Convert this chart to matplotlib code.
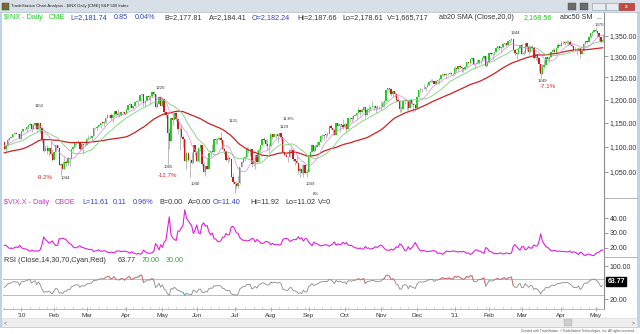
import numpy as np
import pandas as pd
import matplotlib
matplotlib.use("Agg")
import matplotlib.pyplot as plt
from matplotlib.patches import Rectangle
from matplotlib.lines import Line2D
from matplotlib.ticker import FixedLocator, NullLocator, FuncFormatter

plt.rcParams['font.family'] = ['Liberation Sans', 'DejaVu Sans']

# ---------------------------------------------------------------------------
# S&P 500 ($INX) daily closes used only to seed the moving averages and RSI
# (Oct 1 - Dec 16, 2009)
warmup_close = [
    1029.85, 1025.21, 1040.46, 1054.72, 1057.58, 1065.48, 1071.49, 1076.19, 1073.19, 1092.02,
    1096.56, 1087.68, 1097.91, 1091.06, 1081.40, 1092.91, 1079.60, 1066.95, 1063.41, 1042.63,
    1066.11, 1036.19,
    1042.88, 1045.41, 1046.50, 1066.63, 1069.30, 1093.08, 1093.01, 1098.51, 1087.24, 1093.48,
    1109.30, 1110.32, 1109.80, 1094.90, 1091.38, 1106.24, 1105.65, 1110.63, 1091.49, 1095.63,
    1108.86, 1109.24, 1099.92, 1105.98, 1103.25, 1091.94, 1095.95, 1102.35, 1106.41, 1114.11,
    1107.93, 1109.18,
]

# Visible bars: Dec 17, 2009 - May 6, 2011
dec2009_bars = 10

spx_close = [
    # Dec 2009
    1096.08, 1102.47, 1114.05, 1118.02, 1120.59, 1126.48, 1127.78, 1126.20, 1126.42, 1115.10,
    # Jan 2010
    1132.99, 1136.52, 1137.14, 1141.69, 1144.98, 1146.98, 1136.22, 1145.68, 1148.46, 1136.03,
    1150.23, 1138.04, 1116.48, 1091.76, 1096.78, 1092.17, 1097.50, 1084.53, 1073.87,
    # Feb
    1089.19, 1103.32, 1097.28, 1063.11, 1066.19, 1056.74, 1070.52, 1068.13, 1078.47, 1075.51,
    1094.87, 1099.51, 1106.75, 1109.17, 1108.01, 1094.60, 1105.24, 1102.94, 1104.49,
    # Mar
    1115.71, 1118.31, 1118.79, 1122.97, 1138.70, 1138.50, 1140.45, 1145.61, 1150.24, 1149.99,
    1150.51, 1159.46, 1166.21, 1165.83, 1159.90, 1165.81, 1174.17, 1167.72, 1165.73, 1166.59,
    1173.22, 1173.27, 1169.43,
    # Apr
    1178.10, 1187.44, 1189.44, 1182.45, 1186.44, 1194.37, 1196.48, 1197.30, 1210.65, 1211.67,
    1192.13, 1197.52, 1207.17, 1205.94, 1208.67, 1217.28, 1212.05, 1183.71, 1191.36, 1206.78,
    1186.69,
    # May
    1202.26, 1173.60, 1165.87, 1128.15, 1110.88, 1159.73, 1155.79, 1171.67, 1157.44, 1135.68,
    1136.94, 1120.80, 1115.05, 1071.59, 1087.69, 1073.65, 1074.03, 1067.95, 1103.06, 1089.41,
    # Jun
    1070.71, 1098.38, 1102.83, 1064.88, 1050.47, 1062.00, 1055.69, 1086.84, 1091.60, 1089.63,
    1115.23, 1114.61, 1116.04, 1117.51, 1113.20, 1095.31, 1092.04, 1073.69, 1076.76, 1074.57,
    1041.24, 1030.71,
    # Jul
    1027.37, 1022.58, 1028.06, 1060.27, 1070.25, 1077.96, 1078.75, 1095.34, 1095.17, 1096.48,
    1064.88, 1071.25, 1083.48, 1069.59, 1093.67, 1102.66, 1115.01, 1113.84, 1106.13, 1101.53,
    1101.60,
    # Aug
    1125.86, 1120.46, 1127.24, 1125.81, 1121.64, 1127.79, 1121.06, 1089.47, 1083.61, 1079.25,
    1079.38, 1092.54, 1094.16, 1075.63, 1071.69, 1067.36, 1051.87, 1055.33, 1047.22, 1064.59,
    1048.92, 1049.33,
    # Sep
    1080.29, 1090.10, 1104.51, 1091.84, 1098.87, 1104.18, 1109.55, 1121.90, 1121.10, 1125.07,
    1124.66, 1125.59, 1142.71, 1139.78, 1134.28, 1124.83, 1148.67, 1142.16, 1147.70, 1144.73,
    1141.20,
    # Oct
    1146.24, 1137.03, 1160.75, 1159.97, 1158.06, 1165.15, 1165.32, 1169.77, 1178.10, 1173.81,
    1176.19, 1184.71, 1165.90, 1178.17, 1180.26, 1183.08, 1185.62, 1185.64, 1182.45, 1183.78,
    1183.26,
    # Nov
    1184.38, 1193.57, 1197.96, 1221.06, 1225.85, 1223.25, 1213.40, 1218.71, 1213.54, 1199.21,
    1197.75, 1178.34, 1178.59, 1196.69, 1199.73, 1197.84, 1180.73, 1198.35, 1189.40, 1187.76,
    1180.55,
    # Dec
    1206.07, 1221.53, 1224.71, 1223.12, 1223.75, 1228.28, 1233.00, 1240.40, 1240.46, 1241.59,
    1235.23, 1242.87, 1243.91, 1247.08, 1254.60, 1258.84, 1256.77, 1257.54, 1258.51, 1259.78,
    1257.88, 1257.64,
    # Jan 2011
    1271.87, 1270.20, 1276.56, 1273.85, 1271.50, 1269.75, 1274.48, 1285.96, 1283.76, 1293.24,
    1295.02, 1281.92, 1280.26, 1283.35, 1290.84, 1291.18, 1296.63, 1299.54, 1276.34, 1286.12,
    # Feb
    1307.59, 1304.03, 1307.10, 1310.87, 1319.05, 1324.57, 1320.88, 1321.87, 1329.15, 1332.32,
    1328.01, 1336.32, 1340.43, 1343.01, 1315.44, 1307.40, 1306.10, 1319.88, 1327.22,
    # Mar
    1306.33, 1308.44, 1330.97, 1321.15, 1310.13, 1321.82, 1320.02, 1295.11, 1304.28, 1296.39,
    1281.87, 1256.88, 1273.72, 1279.21, 1298.38, 1293.77, 1297.54, 1309.66, 1313.80, 1310.19,
    1319.44, 1328.26, 1325.83,
    # Apr
    1332.41, 1332.87, 1332.63, 1335.54, 1333.51, 1328.17, 1324.46, 1314.16, 1314.41, 1314.52,
    1319.68, 1305.14, 1312.62, 1330.36, 1337.38, 1335.25, 1347.24, 1355.66, 1360.48, 1363.61,
    # May
    1361.22, 1356.62, 1347.32, 1335.10, 1340.20,
]

spx_high = [
    1106, 1103, 1117, 1118, 1121, 1127, 1130, 1130, 1128, 1128,
    1133, 1137, 1139, 1142, 1145, 1150, 1147, 1148, 1149, 1148,
    1150, 1150, 1136, 1115, 1103, 1103, 1098, 1111, 1096,
    1090, 1104, 1102, 1097, 1067, 1071, 1080, 1073, 1080, 1077,
    1095, 1100, 1107, 1112, 1113, 1108, 1107, 1103, 1108,
    1117, 1124, 1125, 1123, 1139, 1141, 1142, 1148, 1150, 1153,
    1151, 1160, 1168, 1167, 1170, 1169, 1175, 1174, 1180, 1173,
    1174, 1175, 1173,
    1181, 1188, 1192, 1189, 1187, 1194, 1199, 1199, 1210, 1213,
    1210, 1197, 1208, 1210, 1209, 1217, 1220, 1212, 1195, 1208,
    1207,
    1205, 1197, 1176, 1168, 1139, 1163, 1170, 1172, 1173, 1157,
    1141, 1148, 1125, 1108, 1090, 1090, 1075, 1090, 1104, 1103,
    1094, 1098, 1105, 1103, 1070, 1063, 1078, 1087, 1092, 1106,
    1115, 1117, 1118, 1121, 1131, 1114, 1100, 1092, 1083, 1082,
    1074, 1048,
    1033, 1033, 1042, 1060, 1071, 1078, 1080, 1099, 1099, 1098,
    1096, 1074, 1084, 1094, 1097, 1103, 1115, 1120, 1115, 1115,
    1107,
    1127, 1126, 1128, 1126, 1126, 1129, 1127, 1111, 1092, 1087,
    1082, 1095, 1100, 1093, 1076, 1082, 1067, 1060, 1066, 1065,
    1065, 1056,
    1081, 1090, 1105, 1103, 1103, 1111, 1110, 1124, 1127, 1126,
    1126, 1131, 1144, 1148, 1138, 1135, 1149, 1149, 1148, 1148,
    1157,
    1150, 1148, 1162, 1163, 1164, 1167, 1169, 1173, 1184, 1179,
    1182, 1185, 1179, 1182, 1189, 1183, 1197, 1188, 1183, 1189,
    1185,
    1196, 1196, 1199, 1221, 1227, 1224, 1227, 1219, 1215, 1213,
    1208, 1198, 1186, 1200, 1200, 1198, 1198, 1198, 1198, 1190,
    1188,
    1207, 1222, 1226, 1225, 1235, 1228, 1236, 1241, 1246, 1247,
    1242, 1244, 1245, 1248, 1255, 1259, 1260, 1258, 1260, 1263,
    1260, 1260,
    1276, 1275, 1277, 1278, 1277, 1272, 1277, 1287, 1287, 1293,
    1296, 1295, 1282, 1294, 1291, 1292, 1299, 1302, 1300, 1287,
    1308, 1308, 1308, 1311, 1322, 1325, 1325, 1322, 1331, 1332,
    1331, 1338, 1340, 1344, 1342, 1317, 1310, 1320, 1328,
    1333, 1314, 1332, 1331, 1327, 1325, 1327, 1320, 1308, 1304,
    1282, 1281, 1282, 1292, 1299, 1299, 1300, 1311, 1319, 1320,
    1320, 1331, 1330,
    1338, 1336, 1338, 1339, 1339, 1339, 1331, 1324, 1322, 1315,
    1320, 1319, 1313, 1332, 1338, 1337, 1349, 1357, 1361, 1364,
    1371, 1362, 1356, 1348, 1354,
]

spx_low = [
    1094, 1092, 1102, 1113, 1117, 1121, 1126, 1126, 1121, 1115,
    1116, 1130, 1134, 1131, 1136, 1142, 1131, 1136, 1143, 1131,
    1135, 1129, 1108, 1090, 1092, 1086, 1081, 1083, 1071,
    1074, 1089, 1097, 1063, 1044, 1056, 1058, 1062, 1061, 1062,
    1076, 1091, 1099, 1104, 1105, 1092, 1094, 1086, 1101,
    1105, 1116, 1116, 1112, 1123, 1137, 1135, 1140, 1138, 1147,
    1142, 1150, 1160, 1162, 1155, 1152, 1163, 1164, 1165, 1163,
    1165, 1170, 1166,
    1169, 1178, 1183, 1181, 1179, 1186, 1194, 1189, 1198, 1208,
    1186, 1185, 1198, 1198, 1190, 1205, 1211, 1181, 1183, 1191,
    1186,
    1187, 1167, 1161, 1066, 1095, 1123, 1146, 1156, 1154, 1127,
    1094, 1117, 1100, 1071, 1056, 1072, 1041, 1065, 1069, 1083,
    1069, 1070, 1091, 1061, 1050, 1042, 1055, 1056, 1080, 1089,
    1090, 1106, 1105, 1114, 1107, 1094, 1085, 1071, 1067, 1071,
    1041, 1028,
    1011, 1018, 1019, 1028, 1061, 1068, 1072, 1079, 1087, 1081,
    1060, 1061, 1056, 1068, 1070, 1088, 1102, 1109, 1101, 1094,
    1088,
    1102, 1116, 1119, 1117, 1108, 1122, 1111, 1089, 1082, 1079,
    1070, 1079, 1088, 1071, 1064, 1067, 1046, 1040, 1046, 1040,
    1049, 1040,
    1050, 1081, 1091, 1090, 1091, 1104, 1102, 1110, 1116, 1114,
    1118, 1122, 1126, 1137, 1125, 1124, 1125, 1142, 1131, 1140,
    1136,
    1141, 1131, 1138, 1151, 1151, 1155, 1164, 1155, 1171, 1167,
    1171, 1174, 1160, 1167, 1171, 1178, 1184, 1177, 1171, 1177,
    1179,
    1177, 1185, 1183, 1198, 1221, 1216, 1209, 1205, 1205, 1194,
    1197, 1173, 1173, 1179, 1190, 1177, 1177, 1181, 1188, 1173,
    1174,
    1181, 1206, 1217, 1218, 1223, 1219, 1228, 1233, 1240, 1239,
    1234, 1235, 1238, 1236, 1248, 1254, 1254, 1248, 1256, 1258,
    1256, 1254,
    1257, 1262, 1266, 1270, 1262, 1263, 1269, 1275, 1282, 1281,
    1289, 1279, 1271, 1281, 1282, 1281, 1288, 1294, 1275, 1276,
    1286, 1302, 1294, 1302, 1312, 1317, 1316, 1311, 1319, 1326,
    1324, 1328, 1331, 1338, 1315, 1302, 1294, 1307, 1321,
    1306, 1302, 1309, 1313, 1303, 1310, 1316, 1294, 1292, 1289,
    1262, 1249, 1257, 1273, 1280, 1291, 1285, 1298, 1309, 1310,
    1305, 1320, 1325,
    1325, 1329, 1327, 1330, 1326, 1326, 1321, 1309, 1313, 1303,
    1312, 1295, 1306, 1321, 1330, 1332, 1336, 1345, 1350, 1358,
    1358, 1348, 1337, 1331, 1336,
]

# CBOE Volatility Index ($VIX.X) daily closes for the same bars
vix_close = [
    21.49, 21.68, 20.49, 19.54, 19.71, 19.47, 20.01, 20.54, 20.01, 21.68,
    20.04, 19.35, 19.16, 19.06, 18.13, 17.55, 18.25, 17.85, 17.63, 17.91,
    17.58, 18.68, 22.27, 27.31, 25.41, 24.55, 23.14, 23.73, 24.62,
    22.59, 21.48, 21.60, 26.08, 26.11, 26.51, 26.00, 25.40, 23.96, 22.73,
    22.25, 20.63, 19.94, 20.02, 20.64, 21.37, 20.27, 20.10, 19.50,
    19.26, 18.83, 18.83, 18.72, 17.42, 17.79, 17.92, 18.57, 17.58, 17.58,
    18.00, 17.69, 16.91, 16.62, 16.97, 16.87, 16.35, 17.55, 17.75, 17.77,
    17.30, 17.59, 17.59,
    17.47, 17.02, 16.23, 17.22, 16.46, 16.14, 15.58, 16.20, 15.59, 16.07,
    18.36, 17.34, 16.32, 16.26, 16.21, 16.62, 17.47, 22.81, 21.08, 18.44,
    22.05,
    20.19, 23.84, 24.91, 32.80, 40.95, 28.84, 26.68, 25.52, 24.91, 31.24,
    31.24, 33.55, 35.32, 45.79, 40.10, 38.32, 36.61, 35.08, 29.68, 32.07,
    35.48, 30.26, 29.46, 35.48, 36.93, 34.66, 35.03, 31.03, 28.79, 30.00,
    26.24, 25.85, 24.46, 23.95, 24.88, 27.06, 27.27, 29.74, 28.53, 29.00,
    34.13, 34.54,
    32.86, 30.12, 29.65, 26.84, 25.71, 24.98, 25.07, 24.56, 24.89, 25.14,
    26.25, 25.97, 23.93, 25.64, 24.63, 23.47, 22.73, 23.19, 24.25, 24.13,
    23.50,
    22.01, 23.00, 22.21, 22.01, 22.14, 21.74, 22.37, 25.39, 26.24, 26.24,
    25.99, 24.33, 24.59, 25.49, 25.49, 25.66, 27.46, 25.91, 26.70, 24.45,
    26.17, 26.05,
    23.89, 22.71, 21.31, 23.80, 22.95, 22.54, 21.99, 21.21, 21.56, 21.72,
    22.10, 21.67, 21.06, 21.75, 22.51, 23.87, 21.71, 22.54, 22.07, 22.25,
    23.70,
    22.50, 23.53, 21.76, 21.49, 21.56, 20.71, 19.85, 19.88, 19.07, 19.88,
    19.03, 19.08, 20.88, 19.57, 19.82, 19.09, 19.28, 19.85, 20.71, 20.16,
    21.20,
    21.83, 21.12, 19.56, 18.52, 18.26, 18.29, 19.08, 18.37, 19.06, 20.61,
    20.20, 22.58, 21.98, 19.98, 18.04, 18.37, 20.63, 18.74, 19.98, 21.53,
    23.54,
    21.36, 19.39, 18.01, 18.02, 17.99, 17.74, 17.25, 17.61, 17.55, 17.94,
    17.94, 17.61, 16.11, 16.41, 16.07, 15.45, 16.47, 17.67, 17.52, 17.28,
    17.52, 17.75,
    17.61, 17.38, 17.02, 17.40, 17.14, 17.54, 16.89, 16.24, 16.39, 15.46,
    15.87, 17.31, 18.42, 18.47, 17.65, 17.59, 16.64, 16.15, 20.04, 19.53,
    17.63, 17.30, 16.69, 15.93, 16.06, 15.81, 16.32, 16.32, 15.69, 15.95,
    16.37, 16.23, 15.85, 16.43, 20.80, 22.13, 20.67, 19.22, 18.35,
    20.70, 20.70, 18.60, 19.06, 20.66, 19.62, 19.84, 21.88, 21.13, 21.16,
    24.32, 29.40, 24.45, 22.51, 20.61, 20.25, 19.17, 18.00, 17.91, 18.18,
    17.88, 17.39, 17.74,
    17.40, 17.40, 17.28, 17.20, 17.11, 17.87, 16.59, 17.21, 16.92, 16.27,
    15.32, 16.96, 16.44, 15.07, 14.69, 15.52, 15.62, 15.30, 14.62, 14.75,
    15.99, 16.70, 17.08, 18.20, 18.40,
]

# Trading days per month from Jan 2010 to May 2011 (last month partial)
month_days = [19, 19, 23, 21, 20, 22, 21, 22, 21, 21, 21, 22, 20, 19, 23, 20, 5]
month_labels = ["'10", "Feb", "Mar", "Apr", "May", "Jun", "Jul", "Aug", "Sep",
                "Oct", "Nov", "Dec", "'11", "Feb", "Mar", "Apr", "May"]

price_ticks = [1050, 1100, 1150, 1200, 1250, 1300, 1350]
vix_ticks = [20, 30, 40]
rsi_ticks = [20, 100]
rsi_last = 63.77

# swing annotations: text, bar (0 = Jan 4 2010), anchor, offset px (dx, dy down), colour, size
swing_labels = [
    ("1150", 10, "high", 0.4, -16.7, "#333333", 3.1),
    ("-9.2%", 23, "low", -16.0, 2.6, "#cc2a2a", 4.4),
    ("1044", 23, "low", 4.0, 3.2, "#333333", 3.1),
    ("1220", 78, "high", 4.5, -6.3, "#333333", 3.1),
    ("1065", 85, "low", 0.9, 2.9, "#333333", 3.1),
    ("-12.7%", 85, "low", -0.1, 11.5, "#cc2a2a", 4.4),
    ("1040", 98, "low", 5.1, 7.6, "#333333", 3.1),
    ("1131", 116, "high", 12.1, -10.7, "#333333", 3.1),
    ("11.8%", 150, "high", 9.2, -14.0, "#333333", 3.1),
    ("1129", 150, "high", 4.7, -5.4, "#333333", 3.1),
    ("1039", 164, "low", 7.1, 7.1, "#333333", 3.1),
    ("8%", 164, "low", 12.6, 16.5, "#333333", 3.1),
    ("1344", 285, "high", 3.5, -4.8, "#333333", 3.1),
    ("1249", 302, "low", 1.8, 3.1, "#333333", 3.1),
    ("-7.1%", 302, "low", 6.8, 8.8, "#cc2a2a", 4.4),
    ("1370", 334, "high", 3.3, -2.0, "#333333", 3.1),
]

# ---------------------------------------------------------------------------
n_pre = len(warmup_close)
closes_all = pd.Series(warmup_close + spx_close, dtype=float)
sma10 = closes_all.rolling(10).mean().to_numpy()[n_pre:]
sma20 = closes_all.rolling(20).mean().to_numpy()[n_pre:]
sma50 = closes_all.rolling(50).mean().to_numpy()[n_pre:]

delta = closes_all.diff()
gain = delta.clip(lower=0).ewm(alpha=1 / 14, adjust=False).mean()
loss = (-delta.clip(upper=0)).ewm(alpha=1 / 14, adjust=False).mean()
rsi = (100 - 100 / (1 + gain / loss)).to_numpy()[n_pre:]

c = np.array(spx_close, dtype=float)
o = closes_all.shift(1).to_numpy()[n_pre:]          # cash index opens at the prior close
hi = np.maximum(np.array(spx_high, dtype=float), np.maximum(o, c))
lo = np.minimum(np.array(spx_low, dtype=float), np.minimum(o, c))
x = np.arange(len(c)) - dec2009_bars
vix = np.array(vix_close, dtype=float)

month_starts = np.concatenate([[0], np.cumsum(month_days)[:-1]])

# ---------------------------------------------------------------------------
W, H = 640, 334
fig = plt.figure(figsize=(W / 100, H / 100), dpi=100)
fig.patch.set_facecolor("white")


def fbox(x0, y0, x1, y1):
    return [x0 / W, 1 - y1 / H, (x1 - x0) / W, (y1 - y0) / H]


def px_rect(x0, y0, x1, y1, **kw):
    fig.add_artist(Rectangle((x0 / W, 1 - y1 / H), (x1 - x0) / W, (y1 - y0) / H,
                             transform=fig.transFigure, **kw))


def px_line(x0, y0, x1, y1, **kw):
    fig.add_artist(Line2D([x0 / W, x1 / W], [1 - y0 / H, 1 - y1 / H],
                          transform=fig.transFigure, **kw))


def px_text(xp, yp, s, **kw):
    fig.text(xp / W, 1 - yp / H, s, **kw)


PL, PR = 3, 604
ax_p = fig.add_axes(fbox(PL, 12, PR, 198))
ax_v = fig.add_axes(fbox(PL, 198, PR, 257), sharex=ax_p)
ax_r = fig.add_axes(fbox(PL, 257, PR, 309), sharex=ax_p)

AXIS_GREY = "#8c8c8c"
TXT = "#333333"
for ax in (ax_p, ax_v, ax_r):
    ax.set_facecolor("white")
    for side in ("top", "left", "bottom"):
        ax.spines[side].set_visible(False)
    ax.spines["right"].set_color(AXIS_GREY)
    ax.spines["right"].set_linewidth(0.8)
    ax.yaxis.tick_right()
    ax.tick_params(axis="y", direction="out", length=3, width=0.6, color=AXIS_GREY,
                   labelsize=5, labelcolor=TXT, pad=1)
    ax.tick_params(axis="x", bottom=False, labelbottom=False)

ax_p.set_xlim(-10.7, 338.8)

# --- price panel -----------------------------------------------------------
ax_p.set_yscale("log")
ax_p.set_ylim(1000.9, 1410.3)
ax_p.yaxis.set_major_locator(FixedLocator(price_ticks))
ax_p.yaxis.set_minor_locator(NullLocator())
ax_p.yaxis.set_major_formatter(FuncFormatter(lambda v, p: f"{v:,.2f}"))

ax_p.vlines(x, lo, hi, color="#a0a0a0", linewidth=0.5, zorder=2)
up = c >= o
body_col = np.where(up, "#18d418", "#d01818")
ax_p.bar(x, np.maximum(np.abs(c - o), 0.6), bottom=np.minimum(o, c), width=0.8,
         color=body_col, linewidth=0, zorder=3)
ax_p.plot(x, sma50, color="#cc2222", linewidth=0.9, zorder=4)
ax_p.plot(x, sma20, color="#7ad27a", linewidth=0.6, zorder=4)
ax_p.plot(x, sma10, color="#d68ae0", linewidth=0.5, zorder=4)

for text, bar, anchor, dx, dy, col, size in swing_labels:
    i = bar + dec2009_bars
    yv = hi[i] if anchor == "high" else lo[i]
    ax_p.annotate(text, xy=(x[i], yv), xytext=(dx * 0.72, -dy * 0.72),
                  textcoords="offset points", ha="center", va="center",
                  fontsize=size, color=col, zorder=6)

# --- VIX panel -------------------------------------------------------------
ax_v.set_ylim(13.67, 53.8)
ax_v.yaxis.set_major_locator(FixedLocator(vix_ticks))
ax_v.yaxis.set_major_formatter(FuncFormatter(lambda v, p: f"{v:.2f}"))
ax_v.plot(x, vix, color="#e020e0", linewidth=0.8)

# --- RSI panel -------------------------------------------------------------
ax_r.set_ylim(-3.0, 122.3)
ax_r.yaxis.set_major_locator(FixedLocator(rsi_ticks))
ax_r.yaxis.set_major_formatter(FuncFormatter(lambda v, p: f"{v:.2f}"))
ax_r.axhline(70, color="#9fcf9f", linewidth=0.7)
ax_r.axhline(30, color="#9fcf9f", linewidth=0.7)
ax_r.plot(x, rsi, color="#8a8a8a", linewidth=0.6)
hot = rsi >= 70
hot_mask = hot | np.roll(hot, 1) | np.roll(hot, -1)
ax_r.plot(x, np.where(hot_mask, rsi, np.nan), color="#e07070", linewidth=0.6)
cold = rsi <= 30
cold_mask = cold | np.roll(cold, 1) | np.roll(cold, -1)
ax_r.plot(x, np.where(cold_mask, rsi, np.nan), color="#40c0d0", linewidth=0.6)

ax_r.annotate(f"{rsi_last:.2f}", xy=(1.0, rsi_last), xycoords=("axes fraction", "data"),
              xytext=(2.5, 0), textcoords="offset points", ha="left", va="center",
              fontsize=5, color="white", fontweight="bold",
              bbox=dict(boxstyle="square,pad=0.15", fc="black", ec="black"),
              annotation_clip=False, zorder=10)

ax_r.spines["bottom"].set_visible(True)
ax_r.spines["bottom"].set_color("#b0b0b0")
ax_r.spines["bottom"].set_linewidth(0.6)
ax_r.tick_params(axis="x", bottom=True, labelbottom=True, direction="inout",
                 length=3, width=0.5, color="#909090", labelsize=4.6,
                 labelcolor=TXT, pad=1.5)
ax_r.xaxis.set_major_locator(FixedLocator(month_starts))
ax_r.xaxis.set_major_formatter(FuncFormatter(
    lambda v, p: month_labels[list(month_starts).index(int(round(v)))]
    if int(round(v)) in list(month_starts) else ""))
ax_r.xaxis.set_minor_locator(FixedLocator(np.arange(-10, 339, 5)))
ax_r.tick_params(axis="x", which="minor", bottom=True, direction="in",
                 length=1.5, width=0.4, color="#a0a0a0")

# --- header lines ----------------------------------------------------------
GREEN = "#22cc22"
BLUE = "#3040c0"
MAG = "#cc33cc"
DGREEN = "#3a9a3a"
info_size = 5.2

price_info = [("$INX - Daily", 4, GREEN), ("CME", 49, GREEN), ("L=2,181.74", 70.7, BLUE),
              ("0.85", 113.7, BLUE), ("0.04%", 135, BLUE), ("B=2,177.81", 164, TXT),
              ("A=2,184.41", 209, TXT), ("O=2,182.24", 252, BLUE), ("Hi=2,187.66", 297, TXT),
              ("Lo=2,178.61", 342, TXT), ("V=1,665,717", 387, TXT),
              ("ab20 SMA (Close,20,0)", 439, TXT), ("2,168.56", 524, GREEN),
              ("abc50 SM", 560, TXT), ("...", 596, TXT)]
for s, xp, col in price_info:
    px_text(xp, 17.5, s, fontsize=info_size, color=col, ha="left", va="center")

vix_info = [("$VIX.X - Daily", 4, MAG), ("CBOE", 55, MAG), ("L=11.61", 82, BLUE),
            ("0.11", 113, BLUE), ("0.96%", 133, BLUE), ("B=0.00", 159, TXT),
            ("A=0.00", 188, TXT), ("O=11.40", 213, BLUE), ("Hi=11.92", 250, TXT),
            ("Lo=11.02", 285, TXT), ("V=0", 318, TXT)]
for s, xp, col in vix_info:
    px_text(xp, 203, s, fontsize=info_size, color=col, ha="left", va="center")

rsi_info = [("RSI (Close,14,30,70,Cyan,Red)", 4, TXT), ("63.77", 118, TXT),
            ("70.00", 142, DGREEN), ("30.00", 166, DGREEN)]
for s, xp, col in rsi_info:
    px_text(xp, 261, s, fontsize=info_size, color=col, ha="left", va="center")

# --- window chrome ---------------------------------------------------------
px_rect(0, 0, 640, 12, facecolor="#d8dfe7", edgecolor="none", zorder=0)
px_line(0, 12, 640, 12, color="#b8c4d2", linewidth=0.6)
px_rect(2, 3, 9, 10, facecolor="#5a7a3a", edgecolor="#3a4a2a", linewidth=0.3)
px_rect(3, 4, 5, 7, facecolor="#d03030", edgecolor="none")
px_text(11, 6.5, "TradeStation Chart Analysis - $INX Daily [CME] S&P 500 Index",
        fontsize=3.1, color="#2a2a2a", ha="left", va="center")
px_rect(568, 3, 576, 10, facecolor="#6a6a6a", edgecolor="#505050", linewidth=0.3)
px_rect(580, 3, 588, 10, facecolor="#6a6a6a", edgecolor="#505050", linewidth=0.3)
px_rect(592, 3, 605, 10, facecolor="#e8ebef", edgecolor="#8c98a8", linewidth=0.4)
px_rect(606, 3, 618, 10, facecolor="#e8ebef", edgecolor="#8c98a8", linewidth=0.4)
px_rect(619, 3, 634, 10, facecolor="#c9483e", edgecolor="#8a3030", linewidth=0.4)
px_text(626.5, 6.5, "x", fontsize=3.5, color="white", ha="center", va="center",
        fontweight="bold")

# side borders
px_rect(0, 12, 2.2, 328, facecolor="#bcd3ea", edgecolor="none")
px_rect(636.8, 12, 640, 328, facecolor="#bcd3ea", edgecolor="none")

# separators in the price-scale column
for yp in (198, 257):
    px_line(PR, yp, 636.8, yp, color="#a8a8a8", linewidth=0.6)

# scroll bar
px_rect(2.2, 318, 636.8, 327, facecolor="#eeeeee", edgecolor="#d4d4d4", linewidth=0.4)
px_rect(564, 319.2, 572, 325.8, facecolor="#cdcdcd", edgecolor="#b8b8b8", linewidth=0.3)
px_text(5.5, 322.5, "<", fontsize=3.6, color="#555555", ha="center", va="center")
px_text(633, 322.5, ">", fontsize=3.6, color="#555555", ha="center", va="center")
px_rect(0, 327, 640, 328.3, facecolor="#bcd3ea", edgecolor="none")
px_text(635, 331.3,
        "Created with TradeStation. \u00a9TradeStation Technologies, Inc. All rights reserved.",
        fontsize=2.3, color="#555555", ha="right", va="center")

fig.savefig("out.png", dpi=100, facecolor=fig.get_facecolor())
